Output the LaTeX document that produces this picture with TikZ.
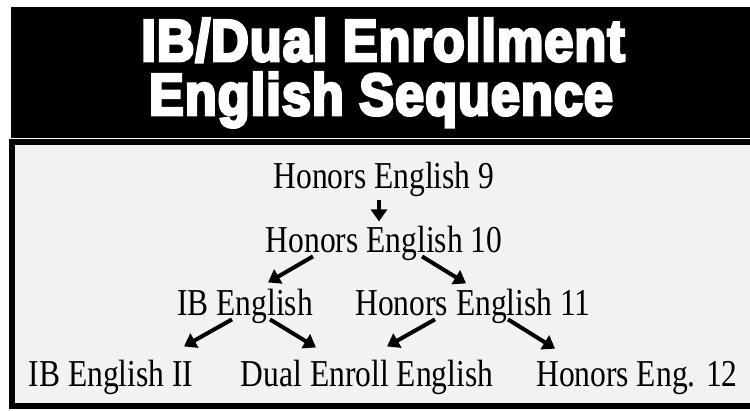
\documentclass[tikz,border=0pt]{standalone}
\usepackage{fontspec}
\setmainfont{Liberation Serif}[FakeStretch=0.83]
\newfontfamily\titlefont{Liberation Sans}[FakeBold=5,FakeStretch=0.88,LetterSpace=2]
\usetikzlibrary{arrows.meta,positioning,calc}

\begin{document}
\begin{tikzpicture}[x=1pt,y=-1pt,
  course/.style={font=\fontsize{38}{40}\selectfont,inner sep=2pt,anchor=base},
  heading/.style={font=\titlefont\bfseries\fontsize{59}{50}\selectfont,text=white,inner sep=0pt,anchor=base},
  arr/.style={-{Triangle[length=12pt,width=16pt]},line width=4pt},
  panel/.style={line width=6pt,draw=black,fill=black!5}]

 \useasboundingbox (0,0) rectangle (750,411);
 \fill[black] (11,7) rectangle (760,138);
 \draw[panel] (12,142) rectangle (770,406);

 \node[heading] (t1) at (383,61) {IB/Dual Enrollment};
 \node[heading] (t2) at (381,115) {English Sequence};

 \node[course] (h9) at (384,189) {Honors English 9};
 \node[course] (h10) at (384,253) {Honors English 10};
 \node[course] (ib) at (245,316) {IB English};
 \node[course] (h11) at (473,316) {Honors English 11};
 \node[course] (ib2) at (111,387) {IB English II};
 \node[course] (dual) at (367,387) {Dual Enroll English};
 \node[course] (h12) at (637,387) {Honors Eng. 12};

 \draw[arr] ($(h9.south)+(-5,1)$) -- ($(h10.north)+(-5,-3)$);
 \draw[arr] ($(h10.south)+(-71,-7)$) -- ($(ib.north)+(23,-5)$);
 \draw[arr] ($(h10.south)+(38,-7)$) -- ($(h11.north)+(-7,-4)$);
 \draw[arr] ($(ib.south)+(-13,-7)$) -- ($(ib2.north)+(73,-12)$);
 \draw[arr] ($(ib.south)+(25,-7)$) -- ($(dual.north)+(-51,-11)$);
 \draw[arr] ($(h11.south)+(-38,-7)$) -- ($(dual.north)+(20,-12)$);
 \draw[arr] ($(h11.south)+(35,-7)$) -- ($(h12.north)+(-82,-11)$);
\end{tikzpicture}
\end{document}
